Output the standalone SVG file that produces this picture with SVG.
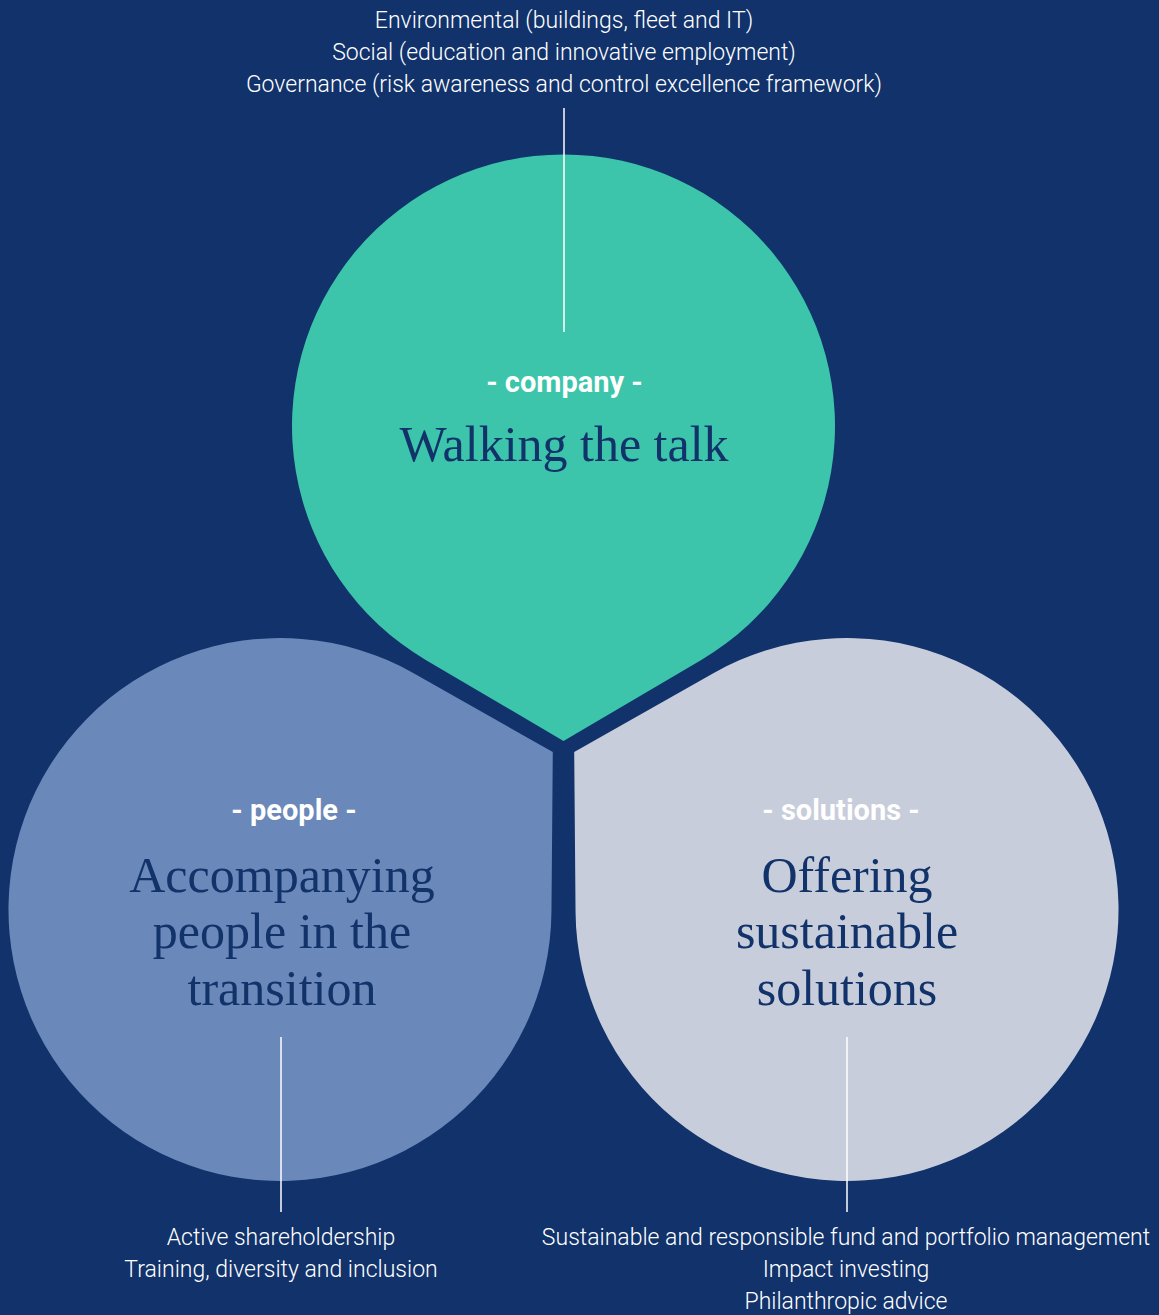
<svg xmlns="http://www.w3.org/2000/svg" width="1159" height="1315" viewBox="0 0 1159 1315">
  <defs>
    <path id="drop" d="M 0 315 L 137.8 233.9 A 271.5 271.5 0 1 0 -137.8 233.9 Z"/>
  </defs>
  <style>
    .note { font-family: Roboto, "Liberation Sans", sans-serif; font-weight: 300; font-size: 23px; fill: #ffffff; text-anchor: middle; }
    .tag { font-family: Roboto, "Liberation Sans", sans-serif; font-weight: 700; font-size: 29px; fill: #ffffff; text-anchor: middle; }
    .title { font-family: "Liberation Serif", "DejaVu Serif", serif; font-size: 50px; fill: #12326a; text-anchor: middle; }
    .rule { stroke: #ffffff; stroke-width: 1.5; fill: none; }
  </style>
  <rect x="0" y="0" width="1159" height="1315" fill="#11326b"/>

  <g id="company">
    <use href="#drop" transform="translate(563.5 426)" fill="#3cc5ab"/>
    <text class="tag" x="564.5" y="392">- company -</text>
    <text class="title" x="564" y="461">Walking the talk</text>
    <text class="note" x="564" y="28">Environmental (buildings, fleet and IT)</text>
    <text class="note" x="564" y="60">Social (education and innovative employment)</text>
    <text class="note" x="564" y="92">Governance (risk awareness and control excellence framework)</text>
  </g>

  <g id="people">
    <use href="#drop" transform="translate(280 909.5) rotate(240)" fill="#6a88b9"/>
    <text class="tag" x="294" y="820">- people -</text>
    <text class="title" x="282" y="892">Accompanying</text>
    <text class="title" x="282" y="948">people in the</text>
    <text class="title" x="282" y="1005">transition</text>
    <text class="note" x="281" y="1245">Active shareholdership</text>
    <text class="note" x="281" y="1277">Training, diversity and inclusion</text>
  </g>

  <g id="solutions">
    <use href="#drop" transform="translate(847 909.5) rotate(120)" fill="#c8cddb"/>
    <text class="tag" x="841" y="820">- solutions -</text>
    <text class="title" x="847" y="892">Offering</text>
    <text class="title" x="847" y="948">sustainable</text>
    <text class="title" x="847" y="1005">solutions</text>
    <text class="note" x="846" y="1245">Sustainable and responsible fund and portfolio management</text>
    <text class="note" x="846" y="1277">Impact investing</text>
    <text class="note" x="846" y="1309">Philanthropic advice</text>
  </g>

  <g id="connectors">
    <line class="rule" x1="564" y1="108" x2="564" y2="332"/>
    <line class="rule" x1="281" y1="1037" x2="281" y2="1212"/>
    <line class="rule" x1="847" y1="1037" x2="847" y2="1212"/>
  </g>
</svg>
